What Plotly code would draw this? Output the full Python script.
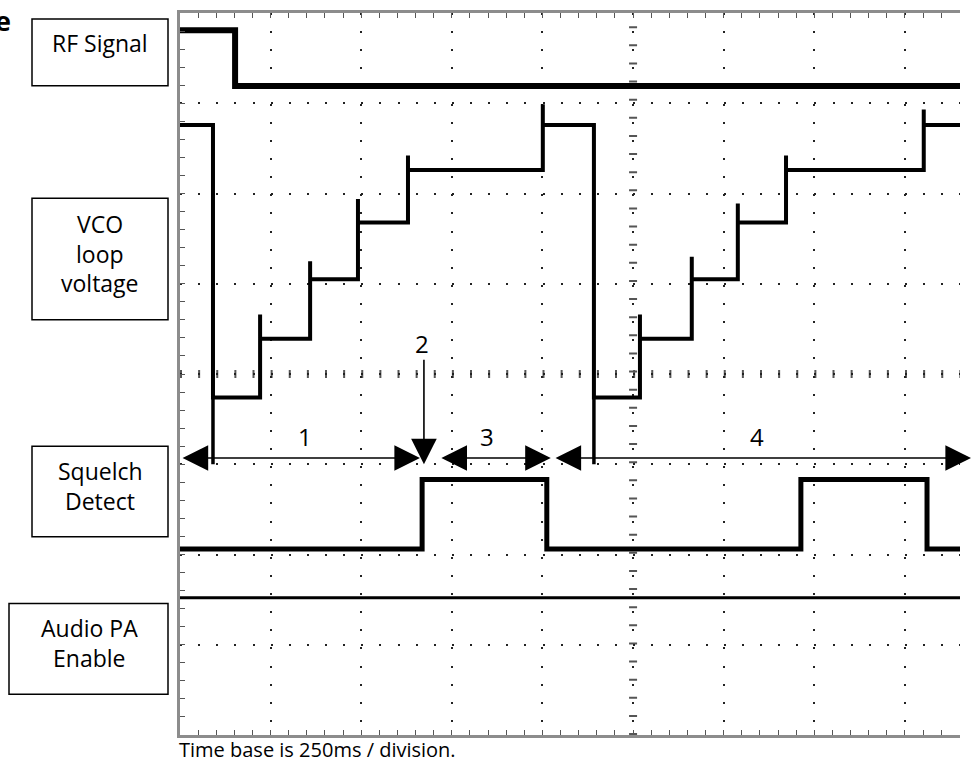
import plotly.graph_objects as go

# ---------------- data (time in ms, level in scope divisions) ----------------
T_END = 2152          # visible right edge of the trace window (ms)
TIMEBASE = 250        # ms per division

rf_t = [0, 152]
rf_v = [7.81, 7.19]

vco_t = [0, 91, 221, 359, 491, 629, 1001, 1142, 1269, 1412, 1539, 1672, 2052]
vco_v = [6.76, 3.74, 4.39, 5.05, 5.68, 6.26, 6.76, 3.74, 4.39, 5.05, 5.68, 6.26, 6.76]
vco_spike = [None, None, 4.66, 5.25, 5.94, 6.42, 6.99, None, 4.66, 5.30, 5.89, 6.42, 6.93]

sq_t = [0, 668, 1012, 1713, 2061]
sq_v = [2.06, 2.83, 2.06, 2.83, 2.06]

pa_t = [0]
pa_v = [1.52]

# interval annotations: (start ms, end ms)
arrow_y = 3.07
interval_spans = [(3, 662), (717, 1023), (1032, 2185)]
interval_labels = ["1", "3", "4"]
interval_label_t = [345, 847, 1592]
marker2_t = 673
marker2_top = 4.17
marker2_tip = 3.00

channel_labels = [["RF Signal"], ["VCO", "loop", "voltage"], ["Squelch", "Detect"], ["Audio PA", "Enable"]]
caption = "Time base is 250ms / division."

# ---------------- layout constants (pixels) ----------------
W, H = 972, 764
ML, MR, MT, MB = 180, 12, 10, 29
PW, PH = W - ML - MR, H - MT - MB
FONT = "Open Sans, Noto Sans, sans-serif"


def px_x(px):
    return (px - ML) / PW


def px_y(py):
    return (H - MB - py) / PH


def step_path(ts, vs, spikes=None, end=T_END):
    xs, ys = [ts[0]], [vs[0]]
    for i in range(1, len(ts)):
        xs.append(ts[i]); ys.append(vs[i - 1])
        if spikes is not None and spikes[i] is not None:
            xs.append(ts[i]); ys.append(spikes[i])
        xs.append(ts[i]); ys.append(vs[i])
    xs.append(end); ys.append(vs[-1])
    return xs, ys


fig = go.Figure()
for (ts, vs, sp, w) in [(rf_t, rf_v, None, 6), (vco_t, vco_v, vco_spike, 4),
                        (sq_t, sq_v, None, 5), (pa_t, pa_v, None, 3)]:
    x, y = step_path(ts, vs, sp)
    fig.add_trace(go.Scatter(x=x, y=y, mode="lines", line=dict(color="black", width=w),
                             hoverinfo="skip", showlegend=False))

shapes = []
# scope centre graticule lines
shapes.append(dict(type="line", xref="x", yref="paper", x0=5 * TIMEBASE, x1=5 * TIMEBASE, y0=0, y1=1,
                   layer="below", line=dict(color="#555", width=8, dash="2px,16.125px")))
shapes.append(dict(type="line", xref="paper", yref="y", x0=0, x1=1, y0=4, y1=4,
                   layer="below", line=dict(color="#555", width=8, dash="2px,16.125px")))
# vertical marker lines from VCO drops down to the interval arrows
for i in range(1, len(vco_t)):
    if vco_v[i] < vco_v[i - 1]:
        shapes.append(dict(type="line", xref="x", yref="y", x0=vco_t[i], x1=vco_t[i],
                           y0=vco_v[i], y1=marker2_tip, line=dict(color="black", width=3.5)))
# label boxes
boxes = [(32, 16, 168, 83), (32, 196, 168, 318), (32, 445, 168, 536), (9, 603, 168, 694)]
for (x0, y0, x1, y1) in boxes:
    shapes.append(dict(type="rect", xref="paper", yref="paper", x0=px_x(x0), x1=px_x(x1),
                       y0=px_y(y0), y1=px_y(y1), line=dict(color="black", width=1.5),
                       fillcolor="rgba(0,0,0,0)"))

ann = []
line_centers = [[40.5], [221.5, 251.5, 281.5], [469.5, 500.5], [627.5, 657.5]]
box_cx = [100, 100, 100, 89]
for lines, cys, cx in zip(channel_labels, line_centers, box_cx):
    for txt, cy in zip(lines, cys):
        ann.append(dict(text=txt, xref="paper", yref="paper", x=px_x(cx), y=px_y(cy),
                        xanchor="center", yanchor="middle", showarrow=False,
                        font=dict(family=FONT, size=23, color="black")))

ann.append(dict(text=caption, xref="paper", yref="paper", x=px_x(177), y=px_y(749.5),
                xanchor="left", yanchor="middle", showarrow=False,
                font=dict(family=FONT, size=20, color="black")))
ann.append(dict(text="<b>e</b>", xref="paper", yref="paper", x=px_x(13), y=px_y(17.5),
                xanchor="right", yanchor="middle", showarrow=False,
                font=dict(family=FONT, size=27, color="black")))

ms_px = PW / T_END
for (t0, t1) in interval_spans:
    ann.append(dict(x=t1 / T_END, xref="paper", y=arrow_y, yref="y",
                    ax=-(t1 - t0) * ms_px, ay=0, axref="pixel", ayref="pixel",
                    text="", showarrow=True, arrowhead=2, startarrowhead=2, arrowside="end+start",
                    arrowsize=3.2, startarrowsize=3.2, arrowwidth=1.6, arrowcolor="black",
                    standoff=0, startstandoff=0))
ann.append(dict(x=marker2_t / T_END, xref="paper", y=marker2_tip, yref="y",
                ax=0, ay=-(marker2_top - marker2_tip) * PH / 8, axref="pixel", ayref="pixel",
                text="", showarrow=True, arrowhead=2, arrowsize=3.2, arrowwidth=1.6,
                arrowcolor="black", standoff=0))
for lab, t in zip(interval_labels, interval_label_t):
    ann.append(dict(text=lab, x=t, xref="x", y=px_y(435.5), yref="paper", showarrow=False,
                    xanchor="center", yanchor="middle", font=dict(family=FONT, size=24, color="black")))
ann.append(dict(text="2", x=marker2_t - 6, xref="x", y=px_y(341.5), yref="paper", showarrow=False,
                xanchor="center", yanchor="middle", font=dict(family=FONT, size=24, color="black")))

fig.update_layout(width=W, height=H, margin=dict(l=ML, r=MR, t=MT, b=MB),
                  plot_bgcolor="white", paper_bgcolor="white", showlegend=False,
                  shapes=shapes, annotations=ann)
fig.update_xaxes(range=[0, T_END], tick0=0, dtick=TIMEBASE, showgrid=True, gridcolor="#222",
                 gridwidth=1.5, griddash="2px,16.125px", zeroline=False, showline=True,
                 linecolor="#8c8c8c", linewidth=3, mirror="ticks", ticks="inside", ticklen=5,
                 tickcolor="#555", tickwidth=1, showticklabels=False,
                 minor=dict(dtick=TIMEBASE / 5, ticks="inside", ticklen=5, tickcolor="#555",
                            tickwidth=1, showgrid=False))
fig.update_yaxes(range=[0, 8], tick0=0, dtick=1, showgrid=True, gridcolor="#222",
                 gridwidth=1.5, griddash="2px,16.125px", zeroline=False, showline=True,
                 linecolor="#8c8c8c", linewidth=3, mirror=False, ticks="inside", ticklen=5,
                 tickcolor="#555", tickwidth=1, showticklabels=False,
                 minor=dict(dtick=0.2, ticks="inside", ticklen=5, tickcolor="#555",
                            tickwidth=1, showgrid=False))

# remove the browser's default 8px page margin so the figure sits at the window origin
fig.write_html("out.html", config={"displayModeBar": False},
               post_script="document.body.style.margin='0';document.body.style.overflow='hidden';")
